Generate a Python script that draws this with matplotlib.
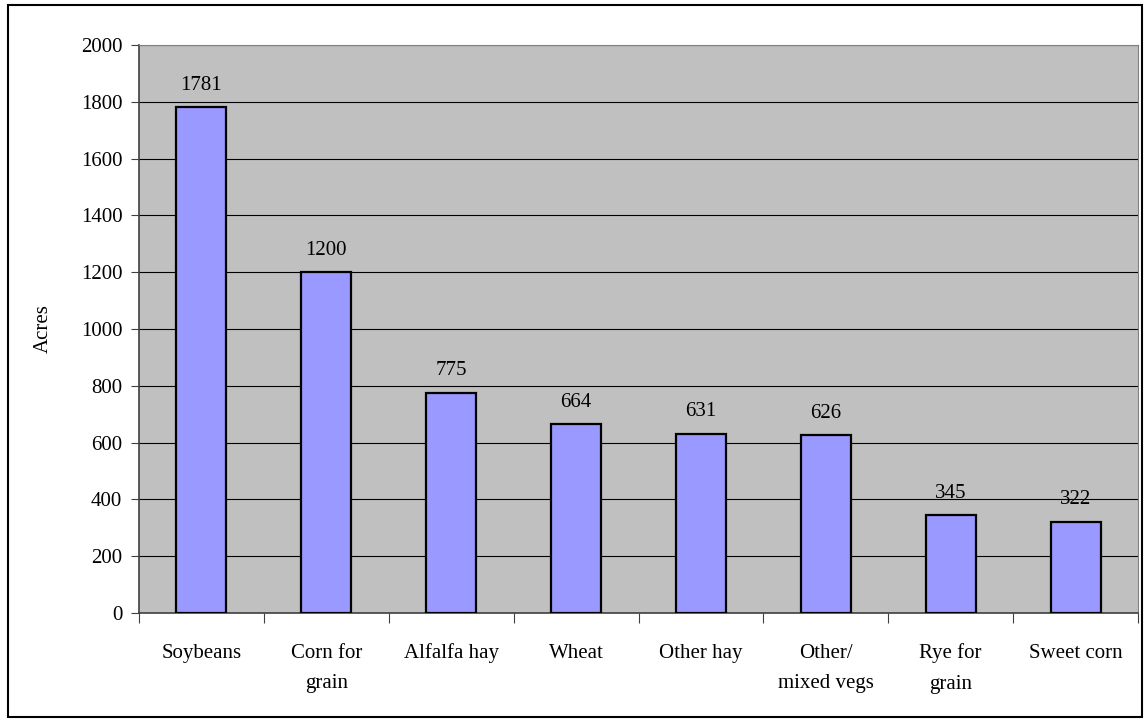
import matplotlib.pyplot as plt
import numpy as np

crops = ["Soybeans", "Corn for\ngrain", "Alfalfa hay", "Wheat", "Other hay",
         "Other/\nmixed vegs", "Rye for\ngrain", "Sweet corn"]
acres = [1781, 1200, 775, 664, 631, 626, 345, 322]

plt.rcParams["font.family"] = ["Liberation Serif", "DejaVu Serif"]

fig = plt.figure(figsize=(11.45, 7.21), dpi=100)
ax = fig.add_axes([0.1214, 0.1498, 0.8725, 0.7878])
ax.set_facecolor("#c0c0c0")

x = np.arange(len(crops))
ax.bar(x, acres, width=0.4, color="#9999ff", edgecolor="black", linewidth=1.6, zorder=3)
for xi, v in zip(x, acres):
    ax.annotate(str(v), (xi, v), xytext=(0, 9), textcoords="offset points",
                ha="center", va="bottom", fontsize=15, zorder=4)

ax.set_xlim(-0.5, len(crops) - 0.5)
ax.set_ylim(0, 2000)
ax.set_yticks(np.arange(0, 2001, 200))
ax.yaxis.grid(True, color="black", linewidth=0.8, zorder=1)
ax.set_axisbelow(True)

ax.set_xticks(np.arange(-0.5, len(crops), 1))
ax.set_xticklabels([])
ax.set_xticks(x, minor=True)
ax.set_xticklabels(crops, minor=True, fontsize=15, linespacing=1.8)
ax.tick_params(axis="x", which="minor", length=0, pad=22)
ax.tick_params(axis="x", which="major", length=7, direction="out", color="#404040")
ax.tick_params(axis="y", length=6, direction="out", labelsize=15, pad=6, color="#404040")

ax.set_ylabel("Acres", fontsize=15, labelpad=20)

for s in ["top", "right"]:
    ax.spines[s].set_color("#808080")
for s in ["left", "bottom"]:
    ax.spines[s].set_color("#404040")
    ax.spines[s].set_linewidth(1.2)

fig.patches.append(plt.Rectangle((0.007, 0.006), 0.99, 0.987, transform=fig.transFigure,
                                 fill=False, edgecolor="black", linewidth=1.5))

fig.savefig("out.png", dpi=100)
